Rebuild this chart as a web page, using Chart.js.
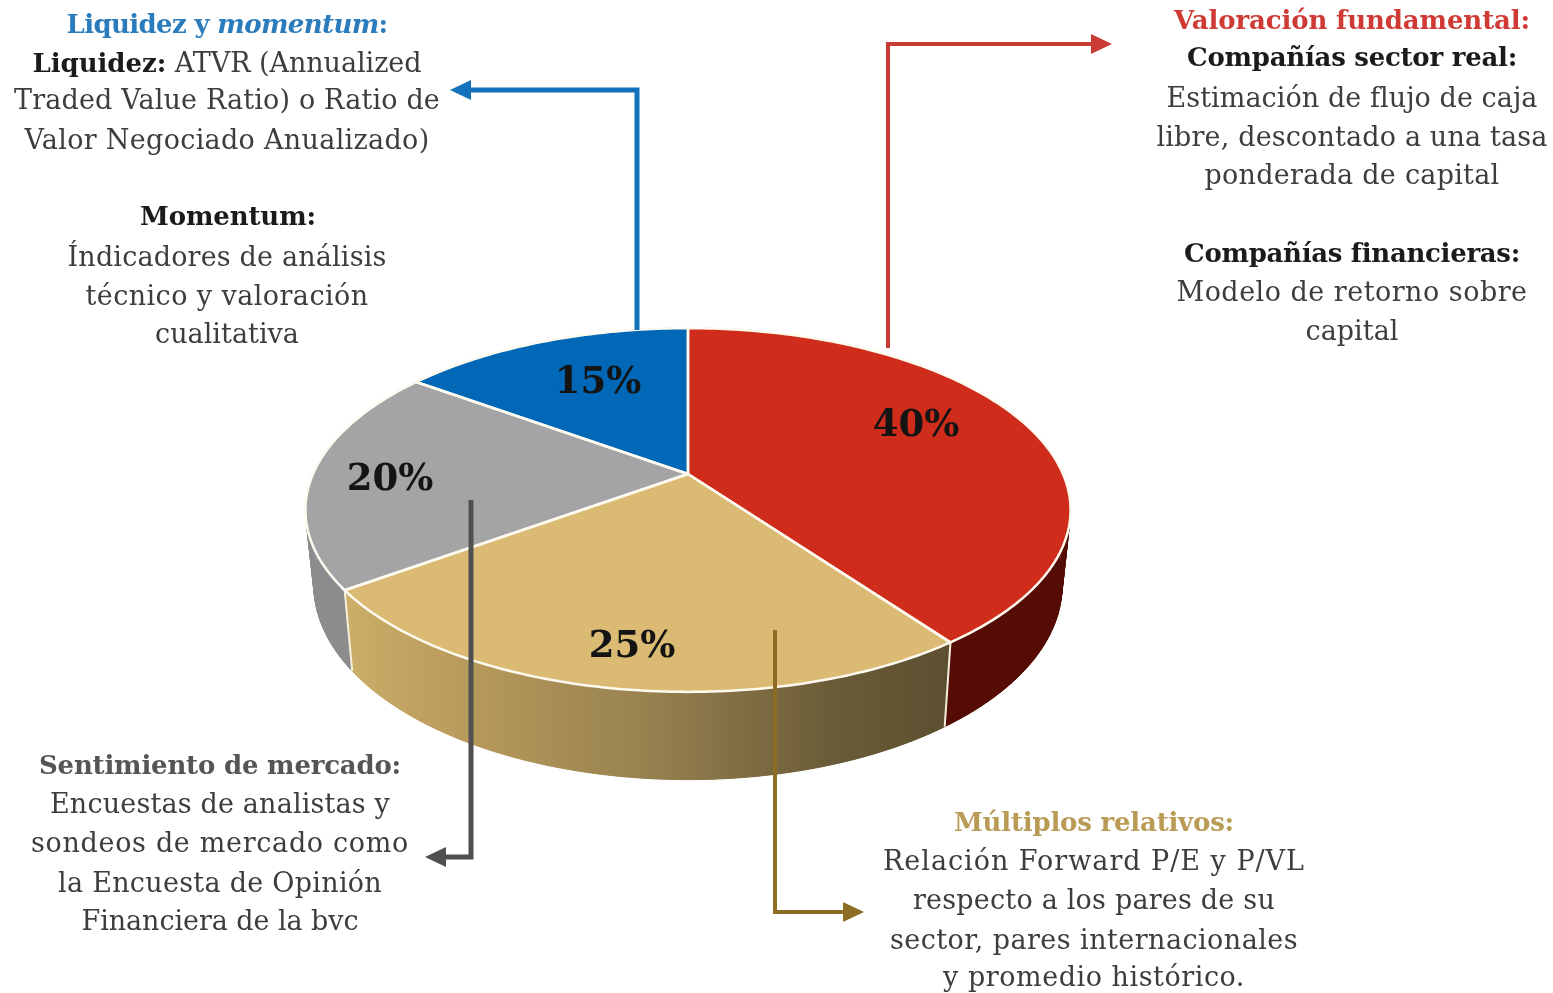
<!DOCTYPE html>
<html lang="es"><head><meta charset="utf-8">
<script src="https://cdn.jsdelivr.net/npm/chart.js@4/dist/chart.umd.min.js"></script>
<style>
html,body{margin:0;padding:0;background:#fff}
#wrap{position:relative;width:1553px;height:993px;overflow:hidden}
canvas{position:absolute;left:0;top:0}
.t{position:absolute;white-space:nowrap;transform:translate(-50%,-50%);font-family:"DejaVu Serif",serif;font-size:27px;line-height:1;color:#3d3d3d;filter:blur(.5px)}
.t b{color:#1b1b1b;font-size:26px}
</style></head><body>
<div id="wrap"><canvas id="c" width="1553" height="993"></canvas></div>
<script>
const categories=["Valoración fundamental","Múltiplos relativos","Sentimiento de mercado","Liquidez y momentum"];
const shares=[40,25,20,15];
const faceColors=["#d02c1b","#dbbb74","#a4a4a6","#0068b7"];
const sideColors=["#540c05",null,"#8c8c8f","#004a80"];
const percentAt=[[916,426],[632,647],[390,480],[598,383]];

// [text-html, centre x, centre y, width]
const notes=[
['<b style="color:#2a7cbd">Liquidez y <i>momentum</i>:</b>',227,23,321],
['<b>Liquidez:</b> ATVR (Annualized',227,62,389],
['Traded Value Ratio) o Ratio de',227,99,426],
['Valor Negociado Anualizado)',227,139,405],
['<b>Momentum:</b>',228,215,176],
['Índicadores de análisis',227,256,319],
['técnico y valoración',227,295,283],
['cualitativa',227,333,144],
['<b style="color:#cf3b34">Valoración fundamental:</b>',1352,19,356],
['<b>Compañías sector real:</b>',1352,56,330],
['Estimación de flujo de caja',1352,97,371],
['libre, descontado a una tasa',1352,136,391],
['ponderada de capital',1352,174,295],
['<b>Compañías financieras:</b>',1352,252,336],
['Modelo de retorno sobre',1352,291,351],
['capital',1352,330,93],
['<b style="color:#555">Sentimiento de mercado:</b>',220,764,362],
['Encuestas de analistas y',220,803,340],
['sondeos de mercado como',220,842,378],
['la Encuesta de Opinión',220,882,324],
['Financiera de la bvc',220,920,277],
['<b style="color:#b99b56">Múltiplos relativos:</b>',1094,821,280],
['Relación Forward P/E y P/VL',1094,860,422],
['respecto a los pares de su',1094,899,362],
['sector, pares internacionales',1094,939,408],
['y promedio histórico.',1094,976,302]
];
const arrows=[
{color:"#1273bc",w:5,pts:[[637,330],[637,90],[450,90]]},
{color:"#c93b33",w:4,pts:[[888,348],[888,44],[1112,44]]},
{color:"#505050",w:5,pts:[[471,500],[471,857],[425,857]]},
{color:"#8c6d23",w:4,pts:[[775,630],[775,912],[864,912]]}
];

const wrap=document.getElementById('wrap');
for(const [html,x,y,w] of notes){
  const d=document.createElement('div');d.className='t';d.innerHTML=html;
  d.style.left=x+'px';d.style.top=y+'px';wrap.appendChild(d);
  const n=d.textContent.length;
  d.style.letterSpacing=((w-d.getBoundingClientRect().width)/n)+'px';
}

// Perspective projection of the flat pie onto the tilted disc.
const tilt={squash:0.466,persp:0.198};
const base={scale:0.978,squash:0.4975,dy:73,persp:0.198};
function topPt(el,a){
  const u=Math.cos(a),v=Math.sin(a),w=1-tilt.persp*v,R=el.outerRadius;
  return [el.x+R*u/w,el.y+R*tilt.squash*v/w];
}
function basePt(el,a){
  const u=Math.cos(a),v=Math.sin(a),w=1-base.persp*v,R=el.outerRadius;
  return [el.x+R*base.scale*u/w,el.y+base.dy+R*base.squash*v/w];
}
function rim(ctx,el,fn,from,to){
  const n=Math.max(8,Math.ceil(Math.abs(to-from)*60));
  for(let i=0;i<=n;i++){const p=fn(el,from+(to-from)*i/n);ctx.lineTo(p[0],p[1]);}
}
const discPlugin={
  id:'disc',
  beforeDatasetDraw(chart){
    const ctx=chart.ctx,arcs=chart.getDatasetMeta(0).data;
    ctx.save();
    const a0=topPt(arcs[1],arcs[1].startAngle),a1=topPt(arcs[1],arcs[1].endAngle);
    // sides: outline first, then a single sweep path so the silhouette follows both rims
    for(const i of [3,0,2,1]){
      const el=arcs[i];
      let paint=sideColors[i];
      if(!paint){
        paint=ctx.createLinearGradient(a1[0],0,a0[0],0);
        paint.addColorStop(0,"#cbae68");paint.addColorStop(.2,"#b89b5c");paint.addColorStop(.5,"#97814f");
        paint.addColorStop(.8,"#6b5c38");paint.addColorStop(1,"#5c4f30");
      }
      ctx.fillStyle=paint;ctx.strokeStyle=paint;ctx.lineWidth=1;
      ctx.beginPath();
      rim(ctx,el,topPt,el.startAngle,el.endAngle);
      rim(ctx,el,basePt,el.endAngle,el.startAngle);
      ctx.closePath();ctx.fill();
      const n=Math.ceil((el.endAngle-el.startAngle)*40);
      ctx.beginPath();
      for(let k=0;k<=n;k++){
        const s=el.startAngle+(el.endAngle-el.startAngle)*k/n;
        const A=topPt(el,s),D=basePt(el,s);
        ctx.moveTo(A[0],A[1]);ctx.lineTo(D[0],D[1]);
        if(k<n){
          const e=el.startAngle+(el.endAngle-el.startAngle)*(k+1)/n;
          const B=topPt(el,e),C=basePt(el,e);
          ctx.lineTo(C[0],C[1]);ctx.lineTo(B[0],B[1]);ctx.closePath();
        }
      }
      ctx.fill('nonzero');ctx.stroke();
    }
    // vertical seams on the front
    ctx.strokeStyle="#f6efdc";ctx.lineWidth=2;
    for(const i of [1,2]){
      const el=arcs[i],p=topPt(el,el.startAngle),q=basePt(el,el.startAngle);
      ctx.beginPath();ctx.moveTo(p[0],p[1]);ctx.lineTo(q[0],q[1]);ctx.stroke();
    }
    // top faces
    arcs.forEach((el,i)=>{
      ctx.beginPath();ctx.moveTo(el.x,el.y);
      rim(ctx,el,topPt,el.startAngle,el.endAngle);
      ctx.closePath();
      ctx.fillStyle=faceColors[i];ctx.fill();
    });
    ctx.strokeStyle="#fffaf0";ctx.lineWidth=2.5;ctx.lineJoin='round';
    arcs.forEach(el=>{
      ctx.beginPath();ctx.moveTo(el.x,el.y);
      rim(ctx,el,topPt,el.startAngle,el.endAngle);
      ctx.closePath();ctx.stroke();
    });
    ctx.restore();
    return false;
  },
  afterDatasetsDraw(chart){
    const ctx=chart.ctx;
    ctx.save();
    ctx.filter='blur(0.5px)';
    ctx.font='bold 37px "DejaVu Serif", serif';
    ctx.textAlign='center';ctx.textBaseline='middle';ctx.fillStyle='#141414';
    shares.forEach((v,i)=>ctx.fillText(v+'%',percentAt[i][0],percentAt[i][1]));
    for(const a of arrows){
      const p=a.pts,n=p.length,tip=p[n-1],pre=p[n-2];
      const L=Math.hypot(tip[0]-pre[0],tip[1]-pre[1]),dx=(tip[0]-pre[0])/L,dy=(tip[1]-pre[1])/L;
      const hl=21,hw=10;
      ctx.strokeStyle=a.color;ctx.lineWidth=a.w;ctx.lineJoin='miter';
      ctx.beginPath();ctx.moveTo(p[0][0],p[0][1]);
      for(let i=1;i<n-1;i++)ctx.lineTo(p[i][0],p[i][1]);
      ctx.lineTo(tip[0]-dx*hl,tip[1]-dy*hl);ctx.stroke();
      ctx.fillStyle=a.color;ctx.beginPath();ctx.moveTo(tip[0],tip[1]);
      ctx.lineTo(tip[0]-dx*hl-dy*hw,tip[1]-dy*hl+dx*hw);
      ctx.lineTo(tip[0]-dx*hl+dy*hw,tip[1]-dy*hl-dx*hw);
      ctx.closePath();ctx.fill();
    }
    ctx.restore();
  }
};
new Chart(document.getElementById('c'),{
  type:'pie',
  data:{labels:categories,datasets:[{data:shares,backgroundColor:faceColors,borderWidth:0}]},
  options:{
    responsive:false,animation:false,
    layout:{padding:{left:313,right:490,top:99,bottom:144}},
    plugins:{legend:{display:false},tooltip:{enabled:false}}
  },
  plugins:[discPlugin]
});
</script></body></html>
